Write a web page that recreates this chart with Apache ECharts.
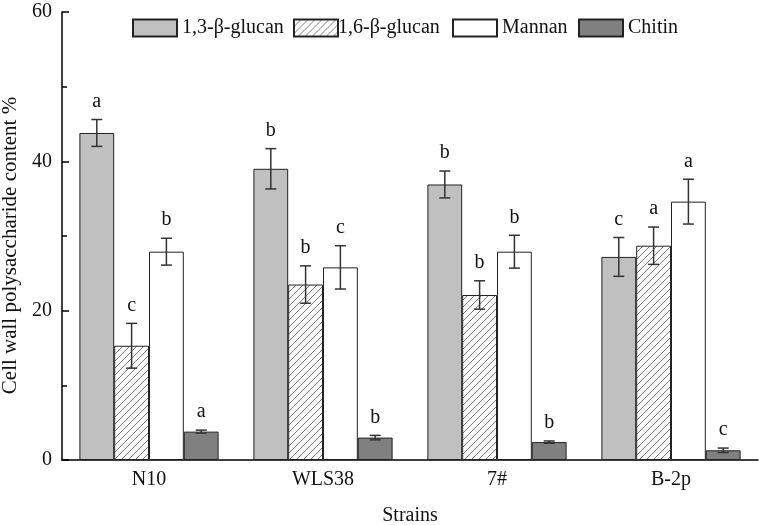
<!DOCTYPE html>
<html><head><meta charset="utf-8">
<script src="https://cdn.jsdelivr.net/npm/echarts@6/dist/echarts.min.js"></script>
<style>html,body{margin:0;padding:0;background:#fff}#c{width:760px;height:525px}</style>
</head><body><div id="c"></div>
<script>
const categories = ['N10', 'WLS38', '7#', 'B-2p'];
const seriesNames = ['1,3-β-glucan', '1,6-β-glucan', 'Mannan', 'Chitin'];
const glucan13 = [43.8, 39.0, 36.9, 27.2];
const glucan16 = [15.3, 23.5, 22.1, 28.7];
const mannan = [27.9, 25.8, 27.9, 34.6];
const chitin = [3.8, 3.0, 2.4, 1.3];
const err13 = [1.8, 2.7, 1.8, 2.6];
const err16 = [3.0, 2.5, 1.9, 2.5];
const errMannan = [1.8, 2.9, 2.2, 3.0];
const errChitin = [0.2, 0.3, 0.15, 0.3];
const let13 = ['a', 'b', 'b', 'c'];
const let16 = ['c', 'b', 'b', 'a'];
const letMannan = ['b', 'c', 'b', 'a'];
const letChitin = ['a', 'b', 'b', 'c'];
const yTicks = [0, 20, 40, 60];

const FONT = '"Liberation Serif", "Times New Roman", serif';
const values = [glucan13, glucan16, mannan, chitin];
const errs = [err13, err16, errMannan, errChitin];
const letters = [let13, let16, letMannan, letChitin];

// hatch pattern
const P = 7;
const hc = document.createElement('canvas');
hc.width = P; hc.height = P;
const hx = hc.getContext('2d');
hx.fillStyle = '#fff'; hx.fillRect(0, 0, P, P);
hx.strokeStyle = '#222'; hx.lineWidth = 0.6;
hx.beginPath();
hx.moveTo(-1, P + 1); hx.lineTo(P + 1, -1);
hx.moveTo(-1, 1); hx.lineTo(1, -1);
hx.moveTo(P - 1, P + 1); hx.lineTo(P + 1, P - 1);
hx.stroke();

const fills = ['#c0c0c0', {image: hc, repeat: 'repeat'}, '#ffffff', '#808080'];

const errData = [];
const errLetters = [];
for (let s = 0; s < 4; s++) {
  for (let c = 0; c < categories.length; c++) {
    errData.push([c, values[s][c], errs[s][c], s]);
    errLetters.push(letters[s][c]);
  }
}

const barSeries = seriesNames.map((n, i) => ({
  name: n, type: 'bar', data: values[i],
  barGap: '0%', barCategoryGap: '20%',
  itemStyle: {color: fills[i], borderColor: '#222', borderWidth: 1},
  emphasis: {disabled: true}
}));

const legendLefts = [132, 293, 452, 578];
const legends = seriesNames.map((n, i) => ({
  data: [{name: n, icon: 'rect'}], left: legendLefts[i], top: 18, padding: 0,
  itemWidth: 44, itemHeight: 17, itemGap: 0,
  textStyle: {fontFamily: FONT, fontSize: 20, color: '#111', padding: [0, 0, 0, i === 1 ? -5 : 0]},
  selectedMode: false
}));

const chart = echarts.init(document.getElementById('c'), null, {renderer: 'canvas'});
chart.setOption({
  animation: false,
  grid: {left: 62, right: 2, top: 12, bottom: 65, containLabel: false, outerBoundsMode: 'none'},
  legend: legends,
  xAxis: {
    type: 'category', data: categories,
    axisLine: {lineStyle: {color: '#000', width: 1.5}},
    axisTick: {show: false},
    axisLabel: {fontFamily: FONT, fontSize: 20, color: '#111', margin: 10},
    name: 'Strains', nameLocation: 'middle', nameGap: 46,
    nameTextStyle: {fontFamily: FONT, fontSize: 20, color: '#111'}
  },
  yAxis: {
    type: 'value', min: yTicks[0], max: yTicks[yTicks.length - 1], interval: yTicks[1] - yTicks[0],
    axisLine: {show: true, lineStyle: {color: '#000', width: 1.5}},
    axisTick: {show: true, inside: true, length: 7, lineStyle: {color: '#000', width: 1.5}},
    minorTick: {show: true, splitNumber: 2, length: 5, lineStyle: {color: '#000', width: 1.5}},
    splitLine: {show: false},
    axisLabel: {fontFamily: FONT, fontSize: 20, color: '#111', margin: 10},
    name: 'Cell wall polysaccharide content %', nameLocation: 'middle', nameGap: 37,
    nameTextStyle: {fontFamily: FONT, fontSize: 21, color: '#111', padding: [0, 19, 0, 0]}
  },
  series: barSeries.concat([{
    type: 'custom', z: 10, data: errData,
    renderItem: function (params, api) {
      const c = api.value(0), v = api.value(1), e = api.value(2), s = api.value(3);
      const band = api.size([1, 0])[0];
      const bw = band * 0.8 / 4;
      const cx = api.coord([c, 0])[0] + (s - 1.5) * bw;
      const yT = api.coord([c, v + e])[1];
      const yB = api.coord([c, v - e])[1];
      const hw = 5.5;
      const st = {stroke: '#333', lineWidth: 1.5};
      return {type: 'group', children: [
        {type: 'line', shape: {x1: cx, y1: yT, x2: cx, y2: yB}, style: st},
        {type: 'line', shape: {x1: cx - hw, y1: yT, x2: cx + hw, y2: yT}, style: st},
        {type: 'line', shape: {x1: cx - hw, y1: yB, x2: cx + hw, y2: yB}, style: st},
        {type: 'text', x: cx, y: yT - 8, style: {text: errLetters[params.dataIndex], fill: '#111',
          font: '20px ' + FONT, textAlign: 'center', textVerticalAlign: 'bottom'}}
      ]};
    }
  }])
});
</script></body></html>
